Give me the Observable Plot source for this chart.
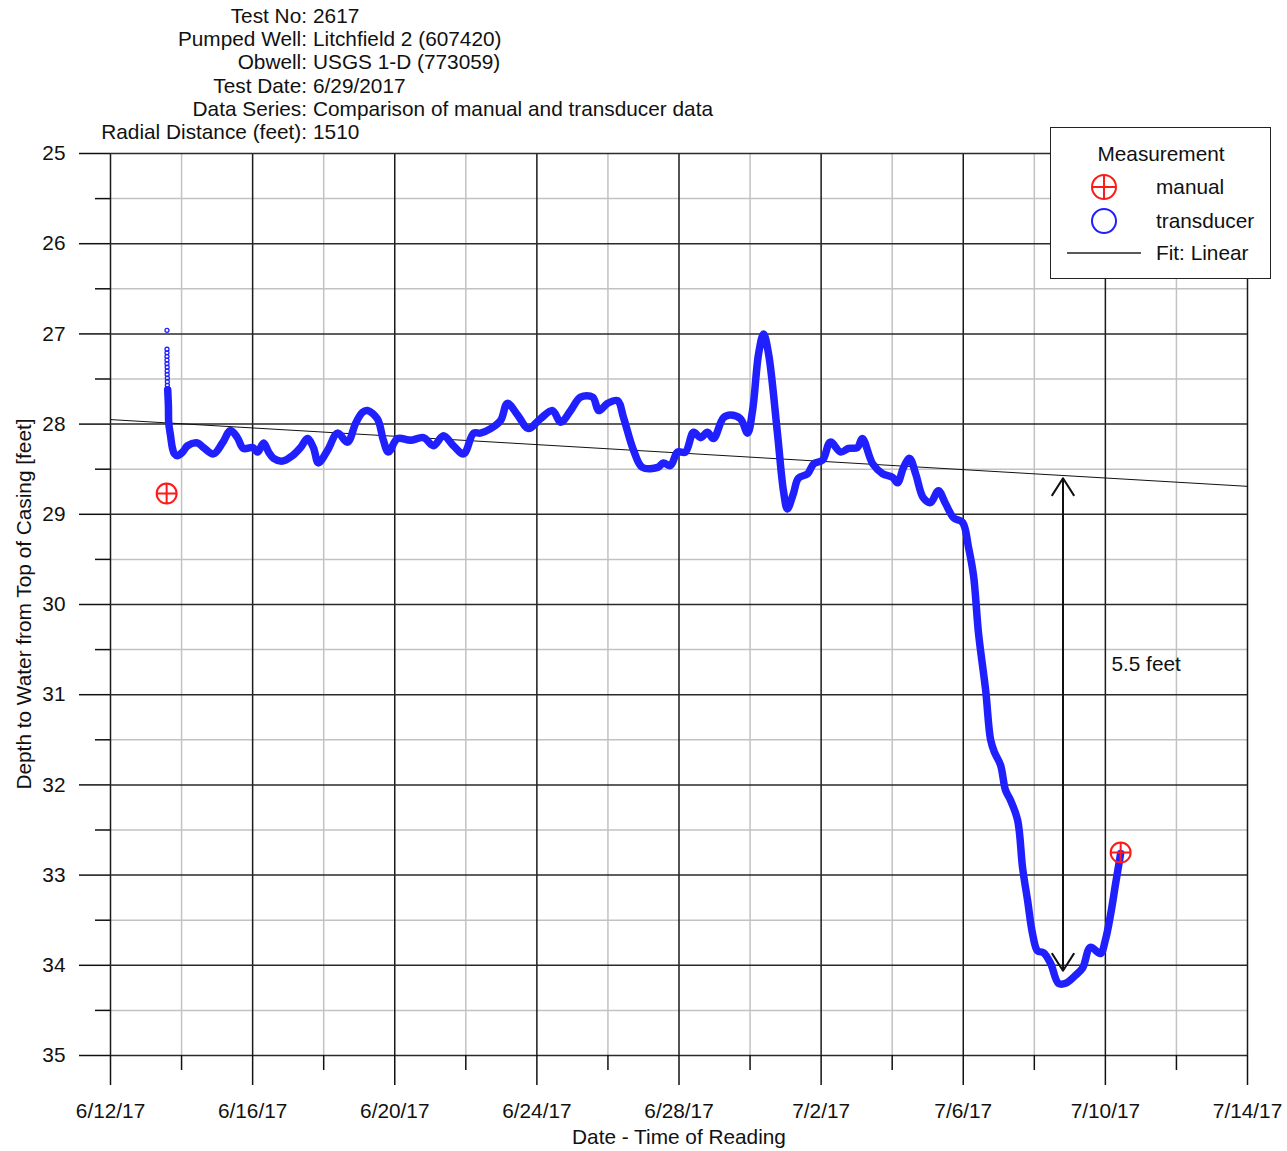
<!DOCTYPE html>
<html>
<head>
<meta charset="utf-8">
<script src="https://cdn.jsdelivr.net/npm/d3@7"></script>
<script src="https://cdn.jsdelivr.net/npm/@observablehq/plot@0.6"></script>
<style>
  body { margin: 0; background: #fff; }
  #wrap { position: relative; width: 1287px; height: 1151px; font-family: "Liberation Sans", Arial, sans-serif; color: #111; }
  .abs { position: absolute; white-space: nowrap; font-size: 20.8px; }
  #hdrL { left: 0; width: 307px; text-align: right; top: 4px; line-height: 23.2px; }
  #hdrR { left: 313px; top: 4px; line-height: 23.2px; }
  #legend { left: 1050px; top: 127px; width: 219px; height: 150px; border: 1.5px solid #222; background: #fff; }
</style>
</head>
<body>
<div id="wrap"></div>
<script>
// ---- data ----
const startDate = Date.UTC(2017, 5, 12);           // 6/12/17, x origin
const headerLabels = ["Test No:", "Pumped Well:", "Obwell:", "Test Date:", "Data Series:", "Radial Distance (feet):"];
const headerValues = ["2617", "Litchfield 2 (607420)", "USGS 1-D (773059)", "6/29/2017", "Comparison of manual and transducer data", "1510"];

const xMajorTicks = ["2017-06-12","2017-06-16","2017-06-20","2017-06-24","2017-06-28","2017-07-02","2017-07-06","2017-07-10","2017-07-14"];
const xMinorTicks = ["2017-06-14","2017-06-18","2017-06-22","2017-06-26","2017-06-30","2017-07-04","2017-07-08","2017-07-12"];
const yMajorTicks = [25, 26, 27, 28, 29, 30, 31, 32, 33, 34, 35];
const yMinorTicks = [25.5, 26.5, 27.5, 28.5, 29.5, 30.5, 31.5, 32.5, 33.5, 34.5];

// transducer: days since 6/12/17 and depth (ft)
const transducerDays = [1.61,1.63,1.64,1.69,1.74,1.80,1.89,2.03,2.17,2.45,2.62,2.90,3.15,3.38,3.57,3.74,4.00,4.14,4.31,4.45,4.59,4.84,5.12,5.35,5.54,5.71,5.85,6.11,6.39,6.67,6.90,7.09,7.23,7.51,7.68,7.82,8.08,8.44,8.81,9.09,9.37,9.65,9.94,10.22,10.41,10.70,10.98,11.17,11.46,11.76,12.10,12.44,12.67,12.95,13.23,13.57,13.74,13.99,14.27,14.44,14.72,14.97,15.40,15.56,15.76,15.96,16.18,16.41,16.61,16.80,16.97,17.25,17.45,17.73,17.93,18.07,18.24,18.38,18.52,18.77,18.94,19.05,19.22,19.36,19.62,19.79,20.04,20.26,20.55,20.77,21.02,21.16,21.45,21.73,22.01,22.15,22.32,22.49,22.66,22.88,23.08,23.30,23.50,23.73,23.98,24.15,24.29,24.43,24.63,24.77,24.88,25.05,25.19,25.33,25.53,25.67,25.81,25.95,26.09,26.26,26.46,26.68,26.88,27.16,27.36,27.58,27.86,28.00,28.15,28.29,28.43];
const transducerDepth = [27.62,27.80,27.99,28.13,28.26,28.33,28.35,28.31,28.24,28.21,28.26,28.33,28.21,28.07,28.15,28.27,28.26,28.31,28.21,28.31,28.38,28.41,28.35,28.26,28.16,28.26,28.43,28.29,28.10,28.20,27.99,27.87,27.85,27.94,28.18,28.31,28.16,28.18,28.15,28.24,28.13,28.24,28.33,28.10,28.10,28.05,27.96,27.77,27.90,28.05,27.94,27.85,27.98,27.85,27.70,27.70,27.85,27.77,27.74,27.93,28.29,28.48,28.48,28.43,28.46,28.31,28.31,28.09,28.15,28.09,28.16,27.93,27.90,27.94,28.10,27.85,27.22,27.00,27.22,28.10,28.74,28.94,28.77,28.60,28.55,28.44,28.40,28.20,28.31,28.27,28.26,28.16,28.44,28.55,28.59,28.65,28.48,28.38,28.55,28.82,28.87,28.74,28.88,29.04,29.09,29.37,29.68,30.32,30.95,31.50,31.64,31.78,32.06,32.17,32.39,32.92,33.28,33.65,33.84,33.86,33.98,34.20,34.20,34.11,34.03,33.80,33.87,33.72,33.43,33.09,32.76];

// first transducer readings shown as separate small circles
const startDays = [1.59,1.59,1.59,1.59,1.59,1.59,1.595,1.595,1.595,1.60,1.60,1.60,1.60,1.605];
const startDepth = [26.96,27.17,27.21,27.25,27.29,27.33,27.37,27.41,27.45,27.49,27.53,27.57,27.61,27.65];

// manual measurements
const manualDays = [1.58, 28.43];
const manualDepth = [28.77, 32.75];

// linear fit
const fitDays = [0, 32];
const fitDepth = [27.95, 28.69];

// drawdown annotation
const arrowDay = 26.8074;
const arrowTop = 28.60;
const arrowBottom = 34.06;
const arrowMid = 31.3;
const annotationDay = 28.17;
const annotationDepth = 30.66;
const annotationText = "5.5 feet";

const xTitle = "Date - Time of Reading";
const yTitle = "Depth to Water from Top of Casing [feet]";
const legendTitle = "Measurement";
const legendItems = ["manual", "transducer", "Fit: Linear"];

// ---- helpers ----
const toDate = d => new Date(startDate + d * 864e5);
const pd = s => new Date(s + "T00:00:00Z");
const fmt = d3.utcFormat("%-m/%-d/%y");

const transducer = transducerDays.map((d, i) => ({x: toDate(d), y: transducerDepth[i]}));
const starts = startDays.map((d, i) => ({x: toDate(d), y: startDepth[i]}));
const manual = manualDays.map((d, i) => ({x: toDate(d), y: manualDepth[i]}));
const fit = fitDays.map((d, i) => ({x: toDate(d), y: fitDepth[i]}));

const crosshair = {
  draw(context, size) {
    const r = Math.sqrt(size / Math.PI);
    context.moveTo(r, 0);
    context.arc(0, 0, r, 0, 2 * Math.PI);
    context.moveTo(-r, 0); context.lineTo(r, 0);
    context.moveTo(0, -r); context.lineTo(0, r);
  }
};

const BLUE = "#2020ff";
const FS = 20.8;
const chart = Plot.plot({
  width: 1287,
  height: 1151,
  marginLeft: 110,
  marginRight: 40,
  marginTop: 153,
  marginBottom: 96,
  style: {fontFamily: "'Liberation Sans', Arial, sans-serif", fontSize: FS + "px", color: "#111", overflow: "visible", background: "transparent"},
  x: {type: "utc", domain: [pd("2017-06-12"), pd("2017-07-14")]},
  y: {domain: [25, 35], reverse: true},
  marks: [
    Plot.ruleX(xMinorTicks.map(pd), {stroke: "#c2c2c2", strokeWidth: 1.5}),
    Plot.ruleY(yMinorTicks, {stroke: "#c2c2c2", strokeWidth: 1.5}),
    Plot.ruleX(xMajorTicks.map(pd), {stroke: "#1a1a1a", strokeWidth: 1.5}),
    Plot.ruleY(yMajorTicks, {stroke: "#2a2a2a", strokeWidth: 1.5}),
    Plot.axisY({ticks: yMajorTicks, tickSize: 31, tickPadding: 14, tickFormat: d => String(d), label: null, strokeWidth: 1.5}),
    Plot.axisY({ticks: yMinorTicks, tickSize: 15, tickFormat: () => "", label: null, strokeWidth: 1.5}),
    Plot.axisX({ticks: xMajorTicks.map(pd), tickSize: 30, tickPadding: 18, tickFormat: fmt, label: null, strokeWidth: 1.5}),
    Plot.axisX({ticks: xMinorTicks.map(pd), tickSize: 15, tickFormat: () => "", label: null, strokeWidth: 1.5}),
    Plot.line(fit, {x: "x", y: "y", stroke: "#111", strokeWidth: 1}),
    Plot.line(transducer, {x: "x", y: "y", stroke: BLUE, strokeWidth: 7.5, curve: "catmull-rom", strokeLinejoin: "round", strokeLinecap: "round"}),
    Plot.dot(starts, {x: "x", y: "y", r: 2, stroke: BLUE, strokeWidth: 1.3, fill: "none"}),
    Plot.dot(manual, {x: "x", y: "y", r: 10, symbol: crosshair, stroke: "#ff1a1a", strokeWidth: 2, fill: "none"}),
    Plot.arrow([{x: toDate(arrowDay), y1: arrowMid, y2: arrowTop}, {x: toDate(arrowDay), y1: arrowMid, y2: arrowBottom}],
      {x1: "x", x2: "x", y1: "y1", y2: "y2", stroke: "#111", strokeWidth: 2, headLength: 15, headAngle: 65}),
    Plot.text([{x: toDate(annotationDay), y: annotationDepth}], {x: "x", y: "y", text: () => annotationText, textAnchor: "start", fill: "#111", fontSize: FS})
  ]
});

const wrap = document.getElementById("wrap");
wrap.appendChild(chart);

// header
const hl = document.createElement("div"); hl.className = "abs"; hl.id = "hdrL";
hl.innerHTML = headerLabels.map(s => `<div>${s}</div>`).join("");
const hr = document.createElement("div"); hr.className = "abs"; hr.id = "hdrR";
hr.innerHTML = headerValues.map(s => `<div>${s}</div>`).join("");
wrap.appendChild(hl); wrap.appendChild(hr);

// axis titles
const xt = document.createElement("div"); xt.className = "abs";
xt.textContent = xTitle;
xt.style.cssText = "left:679px; top:1137px; transform: translate(-50%,-50%);";
wrap.appendChild(xt);
const yt = document.createElement("div"); yt.className = "abs";
yt.textContent = yTitle;
yt.style.cssText = "left:24px; top:604px; transform: translate(-50%,-50%) rotate(-90deg);";
wrap.appendChild(yt);

// legend
const lg = document.createElement("div"); lg.className = "abs"; lg.id = "legend";
lg.innerHTML = `
<svg width="219" height="150" style="position:absolute;left:0;top:0;font-family:'Liberation Sans',Arial,sans-serif;font-size:${FS}px;">
  <text x="110" y="27" text-anchor="middle" dominant-baseline="middle" fill="#111">${legendTitle}</text>
  <circle cx="53" cy="59" r="12" fill="none" stroke="#ff1a1a" stroke-width="2"/>
  <line x1="41" y1="59" x2="65" y2="59" stroke="#ff1a1a" stroke-width="2"/>
  <line x1="53" y1="47" x2="53" y2="71" stroke="#ff1a1a" stroke-width="2"/>
  <text x="105" y="60" dominant-baseline="middle" fill="#111">${legendItems[0]}</text>
  <circle cx="53" cy="93" r="12" fill="none" stroke="${BLUE}" stroke-width="2"/>
  <text x="105" y="94" dominant-baseline="middle" fill="#111">${legendItems[1]}</text>
  <line x1="16" y1="125" x2="90" y2="125" stroke="#222" stroke-width="1.5"/>
  <text x="105" y="126" dominant-baseline="middle" fill="#111">${legendItems[2]}</text>
</svg>`;
wrap.appendChild(lg);
</script>
</body>
</html>
